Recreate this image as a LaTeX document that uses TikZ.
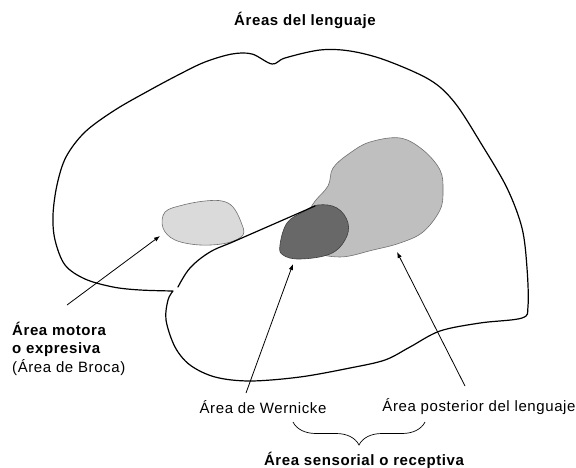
\documentclass[tikz,border=0pt]{standalone}
\usepackage{fontspec}
\setmainfont{Liberation Sans}[LetterSpace=4]
\usetikzlibrary{arrows.meta, positioning, decorations.pathreplacing}
\definecolor{BrocaGray}{RGB}{218,218,218}
\definecolor{PostGray}{RGB}{191,191,191}
\definecolor{WernGray}{RGB}{104,104,104}
\definecolor{EdgeGray}{RGB}{112,112,112}

\begin{document}
\begin{tikzpicture}[x=1pt,y=-1pt,
    brainline/.style={line width=1.2pt, line join=round, line cap=round},
    areablob/.style={draw=EdgeGray, line width=0.6pt},
    pointer/.style={-{Latex[length=6pt,width=4.5pt]}, line width=0.8pt},
    areatext/.style={font=\fontsize{15}{18}\selectfont, inner sep=0pt},
    areahead/.style={font=\fontsize{15}{18}\selectfont\bfseries, inner sep=0pt}]
  \useasboundingbox (0,0) rectangle (576,468);

  \node[areahead] (title) at (305,20) {Áreas del lenguaje};

  % language areas
  \fill[BrocaGray, areablob] plot[smooth cycle, tension=0.6] coordinates
    {(163,228) (165,212) (183,205) (205,201) (222,201) (233,207) (241,222)
     (243,235) (227,243) (200,245) (175,240)};
  \fill[PostGray, areablob] plot[smooth cycle, tension=0.6] coordinates
    {(313,204) (328,186) (333,168) (350,153) (370,142) (400,138) (423,150)
     (440,170) (443,190) (440,210) (423,232) (400,243) (373,250) (340,257)
     (310,250) (300,230)};
  \fill[WernGray, areablob, draw=black!75] plot[smooth cycle, tension=0.65] coordinates
    {(280,245) (287,223) (303,212) (318,205) (337,208) (348,223) (345,240)
     (330,254) (300,259) (283,255)};

  % outline of the hemisphere
  \draw[brainline] plot[smooth, tension=0.55] coordinates
    {(173,291) (140,290) (113,287) (85,279) (65,265) (55,240) (53,215)
     (57,185) (66,157) (85,132) (115,110) (150,90) (180,74) (205,62)
     (232,54) (252,54) (272,64) (285,58) (320,50) (350,51) (385,60)
     (430,80) (455,103) (482,145) (507,188) (522,228) (527,268) (528,306)
     (522,318) (480,323) (440,331) (410,347) (385,360) (350,368) (300,377)
     (250,381) (215,377) (190,365) (175,347) (166,320) (168,300) (173,291)};
  \draw[brainline] plot[smooth, tension=0.6] coordinates
    {(178,287) (190,268) (210,252) (235,241) (283,220) (315,206)};

  % arrows
  \coordinate (brocatip) at (160,236);
  \coordinate (brocatail) at (67,305);
  \coordinate (werntip) at (293,264);
  \coordinate (werntail) at (246,393);
  \coordinate (posttip) at (397,252);
  \coordinate (posttail) at (465,386);
  \draw[pointer] (brocatail) -- (brocatip);
  \draw[pointer] (werntail) -- (werntip);
  \draw[pointer] (posttail) -- (posttip);

  % labels
  \node[areahead, anchor=base west] (broca1) at (12,335) {Área motora};
  \node[areahead, anchor=base west] (broca2) at (12,353) {o expresiva};
  \node[areatext, anchor=base west] (broca3) at (12,372) {(Área de Broca)};
  \node[areatext] (wernicke) at (263,407) {Área de Wernicke};
  \node[areatext] (posterior) at (479,407) {Área posterior del lenguaje};

  \coordinate (braceL) at (293,422);
  \coordinate (braceR) at (425,422);
  \draw[line width=0.7pt, decorate, decoration={brace, mirror, amplitude=23pt}]
    (braceL) -- (braceR);
  \node[areahead] (sensorial) at (364,460) {Área sensorial o receptiva};
\end{tikzpicture}
\end{document}
